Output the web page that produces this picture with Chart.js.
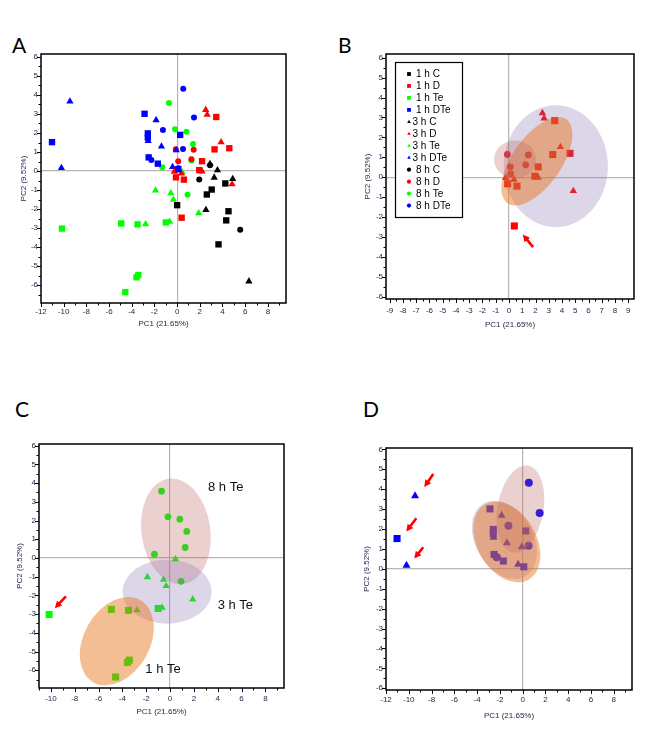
<!DOCTYPE html>
<html>
<head>
<meta charset="utf-8">
<title>PCA score plots</title>
<script src="https://cdn.jsdelivr.net/npm/chart.js@4.4.1/dist/chart.umd.min.js"></script>
<style>
  body { margin: 0; background: #fff; }
  #page { position: relative; width: 646px; height: 730px; overflow: hidden; background: #fff; }
  canvas { position: absolute; }
  .tag { position: absolute; font-family: Lato, "Open Sans", sans-serif; font-size: 21px; line-height: 21px; color: #000; }
</style>
</head>
<body>
<div id="page">
  <div class="tag" style="left:12px;top:34px">A</div>
  <div class="tag" style="left:338px;top:34px">B</div>
  <div class="tag" style="left:15px;top:398px">C</div>
  <div class="tag" style="left:363px;top:398px">D</div>
  <canvas id="chartA"></canvas>
  <canvas id="chartB"></canvas>
  <canvas id="chartC"></canvas>
  <canvas id="chartD"></canvas>
</div>
<script>
// groups: 1 h / 3 h / 8 h  x  C, D, Te, DTe
const groupNames = ['1 h C', '1 h D', '1 h Te', '1 h DTe', '3 h C', '3 h D', '3 h Te', '3 h DTe', '8 h C', '8 h D', '8 h Te', '8 h DTe'];

const pts1hC   = [[4.25, -0.65], [3.05, -0.97], [2.62, -1.23], [0.0, -1.79], [4.53, -2.11], [4.33, -2.59], [3.65, -3.85]];
const pts1hD   = [[3.45, 2.84], [3.3, 1.14], [4.6, 1.2], [2.2, 0.52], [1.95, 0.05], [-0.1, -0.33], [0.6, -0.45], [0.4, -2.45]];
const pts1hTe  = [[-1.0, -2.7], [-4.93, -2.75], [-3.49, -2.8], [-10.15, -3.02], [-3.42, -5.46], [-3.58, -5.58], [-4.57, -6.36]];
const pts1hDTe = [[-11.03, 1.52], [-2.87, 3.01], [-2.58, 1.98], [-2.58, 1.76], [0.27, 1.9], [-2.51, 0.72], [-1.7, 0.39], [0.1, 0.1]];
const pts3hC   = [[2.9, 0.38], [3.56, 0.05], [3.27, -0.34], [4.9, -0.41], [2.54, -2.04], [6.33, -5.79]];
const pts3hD   = [[2.52, 3.22], [2.65, 2.96], [3.88, 1.52], [4.85, -0.69], [2.2, -0.02], [-0.25, -0.03], [0.38, -0.12]];
const pts3hTe  = [[0.45, -0.07], [-1.9, -1.02], [-0.55, -1.16], [-0.33, -1.5], [1.9, -2.21], [-0.66, -2.66], [-2.78, -2.79]];
const pts3hDTe = [[-9.45, 3.66], [-10.2, 0.17], [-1.85, 2.68], [-2.55, 1.58], [-1.38, 1.3], [-0.07, 1.1], [-0.4, 0.22]];
const pts8hC   = [[2.9, 0.3], [1.95, -0.44], [5.56, -3.08]];
const pts8hD   = [[-0.12, 1.14], [1.46, 1.12], [1.26, 0.62], [0.1, 0.52], [0.12, 0.16]];
const pts8hTe  = [[-0.72, 3.57], [-0.18, 2.2], [0.82, 2.07], [1.4, 1.42], [1.27, 0.56], [-1.31, 0.2], [0.92, -1.25]];
const pts8hDTe = [[0.54, 4.32], [1.49, 2.81], [-1.25, 2.16], [0.52, 1.16], [-2.27, 0.58]];

const groupPoints = [pts1hC, pts1hD, pts1hTe, pts1hDTe, pts3hC, pts3hD, pts3hTe, pts3hDTe, pts8hC, pts8hD, pts8hTe, pts8hDTe];

const xTicksA = [-12, -10, -8, -6, -4, -2, 0, 2, 4, 6, 8];
const xTicksB = [-9, -8, -7, -6, -5, -4, -3, -2, -1, 0, 1, 2, 3, 4, 5, 6, 7, 8, 9];
const xTicksC = [-10, -8, -6, -4, -2, 0, 2, 4, 6, 8];
const xTicksD = [-12, -10, -8, -6, -4, -2, 0, 2, 4, 6, 8];
const yTicks  = [-6, -5, -4, -3, -2, -1, 0, 1, 2, 3, 4, 5, 6];

// group ellipses (centre and half-axes in PC units)
const ellipsesB = [
  { cx: 3.53, cy: 0.55, rx: 3.93, ry: 3.06, angle: 0, tint: 'lavender' },
  { cx: 2.1, cy: 0.8, rx: 3.86, ry: 1.23, angle: -55, tint: 'orange' },
  { cx: 0.45, cy: 0.89, rx: 1.58, ry: 0.95, angle: 0, tint: 'pink' }
];
const ellipsesC = [
  { cx: 0.49, cy: 1.42, rx: 2.89, ry: 2.84, angle: -8, tint: 'pink' },
  { cx: -0.25, cy: -1.8, rx: 3.74, ry: 1.71, angle: 0, tint: 'lavender' },
  { cx: -4.47, cy: -4.45, rx: 3.97, ry: 1.76, angle: -60, tint: 'orange' }
];
const ellipsesD = [
  { cx: -0.2, cy: 3.0, rx: 2.02, ry: 2.22, angle: 10, tint: 'pink' },
  { cx: -1.6, cy: 1.45, rx: 3.7, ry: 1.45, angle: 60, tint: 'lavender' },
  { cx: -1.39, cy: 1.35, rx: 3.83, ry: 1.48, angle: 60, tint: 'orange' }
];

// outlier arrows (tail -> head, PC units)
const arrowsB = [[[1.82, -3.51], [1.04, -2.88]]];
const arrowsC = [[[-8.74, -2.05], [-9.67, -2.69]]];
const arrowsD = [
  [[-7.85, 4.76], [-8.64, 4.11]],
  [[-9.34, 2.54], [-10.22, 1.88]],
  [[-8.73, 1.08], [-9.52, 0.52]]
];

const labelsC = [['8 h Te', 4.67, 3.78], ['3 h Te', 5.48, -2.53], ['1 h Te', -0.59, -5.98]];

// styles
const groupColors = ['#000000', '#ff0000', '#00ff00', '#0000ff', '#000000', '#ff0000', '#00ff00', '#0000ff', '#000000', '#ff0000', '#00ff00', '#0000ff'];
const groupShapes = ['rect', 'rect', 'rect', 'rect', 'triangle', 'triangle', 'triangle', 'triangle', 'circle', 'circle', 'circle', 'circle'];
const tints = { orange: 'rgba(230,110,20,0.45)', lavender: 'rgba(140,120,180,0.3)', pink: 'rgba(190,100,100,0.3)' };
const axisInk = '#262650';
const family = "'Liberation Sans', Arial, sans-serif";

function steps(min, max, step) {
  const out = [];
  for (let v = Math.ceil(min / step - 1e-9) * step; v <= max + 1e-9; v += step) out.push(+v.toFixed(3));
  return out;
}

function drawMarker(ctx, shape, r, x, y) {
  ctx.beginPath();
  if (shape === 'rect') {
    const s = r * Math.SQRT1_2;
    ctx.rect(x - s, y - s, 2 * s, 2 * s);
  } else if (shape === 'triangle') {
    for (let k = 0; k < 3; k++) {
      const a = -Math.PI / 2 + k * 2 * Math.PI / 3;
      const px = x + Math.cos(a) * r, py = y + Math.sin(a) * r;
      if (k === 0) ctx.moveTo(px, py); else ctx.lineTo(px, py);
    }
    ctx.closePath();
  } else {
    ctx.arc(x, y, r, 0, Math.PI * 2);
  }
  ctx.fill();
}

function panelPlugin(p) {
  return {
    id: 'panelExtras',
    afterDatasetsDraw(chart) {
      const ctx = chart.ctx, a = chart.chartArea;
      const xs = chart.scales.x, ys = chart.scales.y;
      ctx.save();
      ctx.beginPath();
      ctx.rect(a.left, a.top, a.right - a.left, a.bottom - a.top);
      ctx.clip();
      (p.ellipses || []).forEach(e => {
        const cx = xs.getPixelForValue(e.cx), cy = ys.getPixelForValue(e.cy);
        const rx = Math.abs(xs.getPixelForValue(e.cx + e.rx) - cx);
        const ry = Math.abs(ys.getPixelForValue(e.cy + e.ry) - cy);
        ctx.beginPath();
        ctx.ellipse(cx, cy, rx, ry, e.angle * Math.PI / 180, 0, Math.PI * 2);
        ctx.fillStyle = tints[e.tint];
        ctx.fill();
      });
      (p.arrows || []).forEach(([from, to]) => {
        const x0 = xs.getPixelForValue(from[0]), y0 = ys.getPixelForValue(from[1]);
        const x1 = xs.getPixelForValue(to[0]), y1 = ys.getPixelForValue(to[1]);
        const ang = Math.atan2(y1 - y0, x1 - x0);
        const head = 7;
        ctx.strokeStyle = '#ff0000';
        ctx.fillStyle = '#ff0000';
        ctx.lineWidth = 2.6;
        ctx.beginPath();
        ctx.moveTo(x0, y0);
        ctx.lineTo(x1 - Math.cos(ang) * head * 0.8, y1 - Math.sin(ang) * head * 0.8);
        ctx.stroke();
        ctx.beginPath();
        ctx.moveTo(x1, y1);
        ctx.lineTo(x1 - Math.cos(ang) * head + Math.sin(ang) * 3.6, y1 - Math.sin(ang) * head - Math.cos(ang) * 3.6);
        ctx.lineTo(x1 - Math.cos(ang) * head - Math.sin(ang) * 3.6, y1 - Math.sin(ang) * head + Math.cos(ang) * 3.6);
        ctx.closePath();
        ctx.fill();
      });
      (p.labels || []).forEach(([text, x, y]) => {
        ctx.fillStyle = '#111';
        ctx.font = '13px ' + family;
        ctx.textAlign = 'center';
        ctx.textBaseline = 'middle';
        ctx.fillText(text, xs.getPixelForValue(x), ys.getPixelForValue(y));
      });
      ctx.restore();

      if (p.legend) {
        const bx = a.left + 9, by = a.top + 8;
        ctx.save();
        ctx.fillStyle = '#fff';
        ctx.fillRect(bx, by, 67, 155);
        ctx.strokeStyle = '#000';
        ctx.lineWidth = 1.2;
        ctx.strokeRect(bx + 0.5, by + 0.5, 67, 155);
        ctx.font = '10px ' + family;
        ctx.textBaseline = 'middle';
        ctx.textAlign = 'left';
        groupNames.forEach((name, i) => {
          const ly = by + 12 + i * 11.96;
          const shape = groupShapes[i];
          ctx.fillStyle = groupColors[i];
          drawMarker(ctx, shape, shape === 'rect' ? 2.7 : 2.1, bx + 14, ly);
          ctx.fillStyle = '#000';
          ctx.fillText(name, bx + (shape === 'triangle' ? 17.5 : 21), ly + 0.5);
        });
        ctx.restore();
      }
    },
    afterDraw(chart) {
      const ctx = chart.ctx, a = chart.chartArea;
      const xs = chart.scales.x, ys = chart.scales.y;
      ctx.save();
      ctx.strokeStyle = '#000';
      ctx.lineWidth = 1;
      ctx.beginPath();
      steps(xs.min, xs.max, p.xMinor).forEach(v => {
        const px = Math.round(xs.getPixelForValue(v)) + 0.5;
        const len = p.xTicks.includes(v) ? 4 : 2.5;
        ctx.moveTo(px, a.bottom);
        ctx.lineTo(px, a.bottom + len);
      });
      steps(ys.min, ys.max, 0.5).forEach(v => {
        const py = Math.round(ys.getPixelForValue(v)) + 0.5;
        const len = yTicks.includes(v) ? 4 : 2.5;
        ctx.moveTo(a.left, py);
        ctx.lineTo(a.left - len, py);
      });
      ctx.stroke();
      ctx.lineWidth = 1.5;
      ctx.strokeRect(a.left, a.top, a.right - a.left, a.bottom - a.top);
      ctx.restore();
    }
  };
}

function makePanel(id, p) {
  const canvas = document.getElementById(id);
  const box = p.box, area = p.area;
  canvas.width = box.w;
  canvas.height = box.h;
  canvas.style.left = box.x + 'px';
  canvas.style.top = box.y + 'px';
  canvas.style.width = box.w + 'px';
  canvas.style.height = box.h + 'px';

  const datasets = p.groups.map(g => {
    const shape = groupShapes[g];
    return {
      label: groupNames[g],
      data: groupPoints[g].map(([x, y]) => ({ x, y })),
      pointStyle: shape,
      pointRadius: p.sizes[shape],
      pointHoverRadius: p.sizes[shape],
      backgroundColor: groupColors[g],
      borderColor: groupColors[g],
      borderWidth: 0,
      pointBorderWidth: 0
    };
  });

  const tickFont = { family, size: 8 };
  const lh = 9.6;

  new Chart(canvas, {
    type: 'scatter',
    data: { datasets },
    options: {
      responsive: false,
      animation: false,
      devicePixelRatio: 1,
      events: [],
      layout: { padding: { left: 0, top: area.t - box.y, right: box.x + box.w - area.r, bottom: 0 } },
      plugins: { legend: { display: false }, tooltip: { enabled: false } },
      scales: {
        x: {
          type: 'linear',
          min: p.xRange[0],
          max: p.xRange[1],
          afterBuildTicks: s => { s.ticks = p.xTicks.map(v => ({ value: v })); },
          afterFit: s => { s.height = box.y + box.h - area.b; },
          ticks: { font: tickFont, color: axisInk, padding: p.xLabelGap - lh / 2, autoSkip: false, maxRotation: 0 },
          grid: { drawTicks: false, color: c => (c.tick && c.tick.value === 0 ? '#b5b5b5' : 'rgba(0,0,0,0)'), lineWidth: 1.2 },
          border: { display: false },
          title: { display: true, text: 'PC1 (21.65%)', font: tickFont, color: axisInk, padding: { top: 0, bottom: box.y + box.h - p.xTitleY - lh / 2 } }
        },
        y: {
          type: 'linear',
          min: p.yRange[0],
          max: p.yRange[1],
          afterBuildTicks: s => { s.ticks = yTicks.map(v => ({ value: v })); },
          afterFit: s => { s.width = area.l - box.x; },
          ticks: { font: tickFont, color: axisInk, padding: 3, autoSkip: false },
          grid: { drawTicks: false, color: c => (c.tick && c.tick.value === 0 ? '#b5b5b5' : 'rgba(0,0,0,0)'), lineWidth: 1.2 },
          border: { display: false },
          title: { display: true, text: 'PC2 (9.52%)', font: tickFont, color: axisInk, padding: { top: p.yTitleX - box.x - lh / 2, bottom: 0 } }
        }
      }
    },
    plugins: [panelPlugin(p)]
  });
}

makePanel('chartA', {
  box: { x: 0, y: 30, w: 323, h: 310 },
  area: { l: 41, t: 54, r: 286, b: 303 },
  xRange: [-12, 9.6], yRange: [-6.93, 6.15],
  xTicks: xTicksA, xMinor: 1,
  xLabelGap: 8.3, xTitleY: 323.3, yTitleX: 24,
  groups: [0, 1, 2, 3, 4, 5, 6, 7, 8, 9, 10, 11],
  sizes: { rect: 4.5, triangle: 4.2, circle: 3 }
});

makePanel('chartB', {
  box: { x: 323, y: 30, w: 323, h: 310 },
  area: { l: 386, t: 54, r: 634, b: 299 },
  xRange: [-9.28, 9.43], yRange: [-6.12, 6.19],
  xTicks: xTicksB, xMinor: 0.5,
  xLabelGap: 11.7, xTitleY: 325, yTitleX: 368,
  groups: [1, 5, 9],
  sizes: { rect: 5, triangle: 4.3, circle: 3.4 },
  ellipses: ellipsesB, arrows: arrowsB, legend: true
});

makePanel('chartC', {
  box: { x: 0, y: 365, w: 323, h: 365 },
  area: { l: 39, t: 444, r: 284, b: 688 },
  xRange: [-11, 9.56], yRange: [-6.95, 6.09],
  xTicks: xTicksC, xMinor: 1,
  xLabelGap: 10.6, xTitleY: 712, yTitleX: 20,
  groups: [2, 6, 10],
  sizes: { rect: 5, triangle: 4.2, circle: 3.4 },
  ellipses: ellipsesC, arrows: arrowsC, labels: labelsC
});

makePanel('chartD', {
  box: { x: 323, y: 365, w: 323, h: 365 },
  area: { l: 386, t: 448, r: 632, b: 690 },
  xRange: [-12, 9.6], yRange: [-6.09, 6.07],
  xTicks: xTicksD, xMinor: 1,
  xLabelGap: 10, xTitleY: 716, yTitleX: 367,
  groups: [3, 7, 11],
  sizes: { rect: 5, triangle: 4.6, circle: 4 },
  ellipses: ellipsesD, arrows: arrowsD
});
</script>
</body>
</html>
